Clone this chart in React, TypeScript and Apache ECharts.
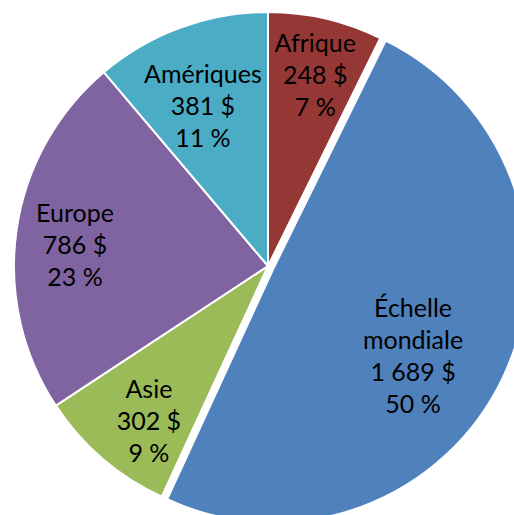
import React, { useEffect, useRef } from "react";
import * as echarts from "echarts";

const categories = ["Afrique", "Échelle mondiale", "Asie", "Europe", "Amériques"];
const values = [248, 1689, 302, 786, 381];
const colors = ["#953735", "#4F81BD", "#9BBB59", "#8064A2", "#4BACC6"];
const labelOffsets: [number, number][] = [[3, -2], [-31, 5], [8, 6], [0, 6], [2, 22]];
const explodedIndex = 1;

const fmtNum = (v: number) => String(v).replace(/\B(?=(\d{3})+(?!\d))/g, " ");

export default function App() {
  const ref = useRef<HTMLDivElement>(null);
  useEffect(() => {
    document.body.style.margin = "0";
    const chart = echarts.init(ref.current!, null, { renderer: "svg" });
    const data = categories.map((name, i) => ({
      name,
      value: values[i],
      selected: i === explodedIndex,
      itemStyle: { color: colors[i] },
    }));
    const labelData = categories.map((name, i) => ({
      name,
      value: values[i],
      label: { offset: labelOffsets[i] },
    }));
    chart.setOption({
      animation: false,
      series: [
        {
          type: "pie",
          center: [268, 266],
          radius: [0, 254],
          startAngle: 90,
          clockwise: true,
          selectedMode: "single",
          selectedOffset: 6,
          silent: true,
          label: { show: false },
          labelLine: { show: false },
          itemStyle: { borderColor: "#ffffff", borderWidth: 2 },
          emphasis: { disabled: true },
          data,
        },
        {
          type: "pie",
          center: [268, 266],
          radius: [130, 254],
          startAngle: 90,
          clockwise: true,
          selectedMode: false,
          silent: true,
          itemStyle: { color: "rgba(0,0,0,0)", borderWidth: 0 },
          emphasis: { disabled: true },
          labelLine: { show: false },
          label: {
            show: true,
            position: "inside",
            color: "#000000",
            fontFamily: "Lato",
            fontSize: 25,
            lineHeight: 32,
            formatter: (p: any) =>
              `${p.name.replace(" ", "\n")}\n${fmtNum(p.value)} $\n${Math.round(p.percent)} %`,
          },
          data: labelData,
        },
      ],
    });
    return () => chart.dispose();
  }, []);
  return <div ref={ref} style={{ width: 514, height: 515 }} />;
}
